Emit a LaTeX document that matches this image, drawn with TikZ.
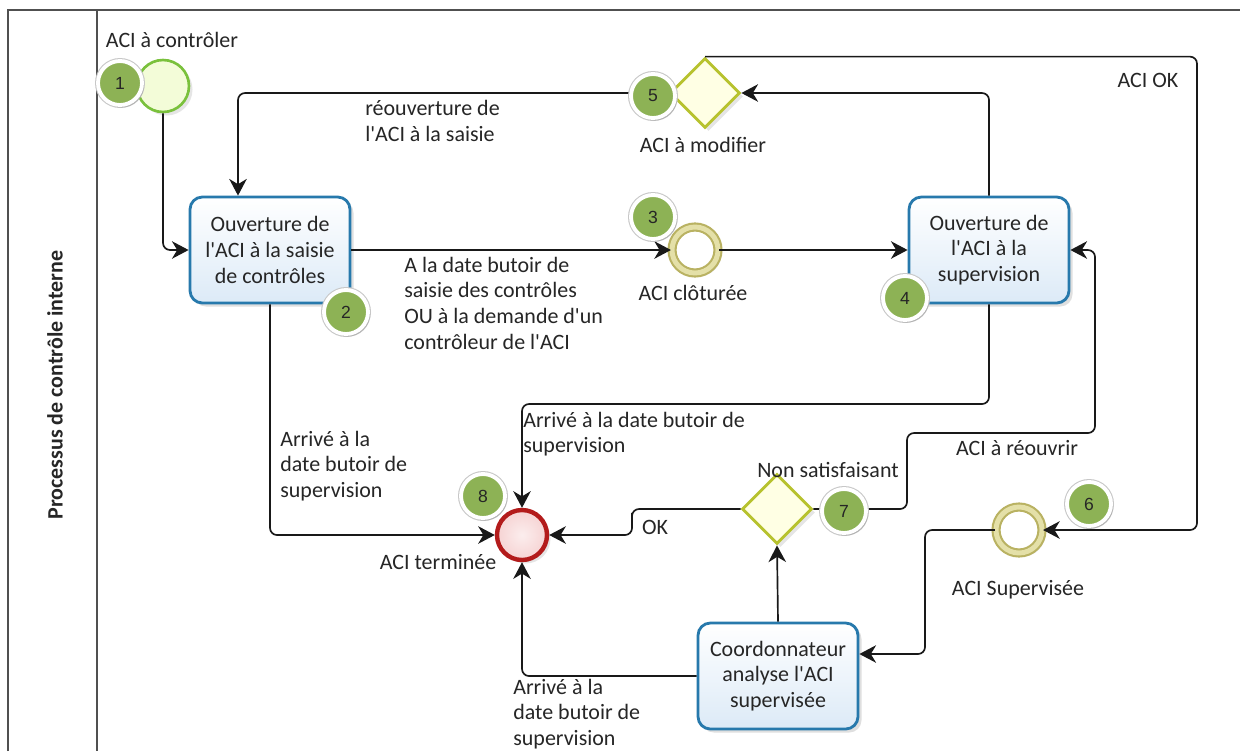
\documentclass[tikz,border=0pt]{standalone}
\usepackage{fontspec}
\setmainfont{Carlito}[Ligatures=TeXOff]
\newfontfamily\badgefont{Liberation Sans}
\usetikzlibrary{shapes.geometric,arrows.meta,calc,shadows}
\definecolor{taskblue}{HTML}{2779AC}
\definecolor{taskfill}{HTML}{DCEAF7}
\definecolor{badgegreen}{HTML}{8DB255}
\definecolor{startgreen}{HTML}{7AC13C}
\definecolor{startfill}{HTML}{F3FCD8}
\definecolor{gwline}{HTML}{B7C22E}
\definecolor{gwfill}{HTML}{FFFFE4}
\definecolor{endred}{HTML}{B31B1B}
\definecolor{endfill}{HTML}{F6D3D3}
\definecolor{khaki}{HTML}{B9B262}
\definecolor{khakilight}{HTML}{E4E0A8}
\definecolor{framegray}{HTML}{505050}
\begin{document}
\begin{tikzpicture}[x=0.02cm,y=-0.02cm,
  txt/.style={font=\fontsize{12.5}{14.6}\selectfont, text=black!85, inner sep=0pt},
  lbl/.style={txt, align=left, anchor=west},
  clbl/.style={txt, align=center},
  flow/.style={draw=black!90, line width=0.95pt, rounded corners=4pt,
    -{Stealth[length=9.5pt,width=10pt,inset=3pt]}},
  task/.style={rectangle, draw=taskblue, line width=1.6pt, rounded corners=7pt,
    top color=white, bottom color=taskfill, minimum width=3.2cm, minimum height=2.12cm,
    align=center, font=\fontsize{12.5}{14.6}\selectfont, text=black!85,
    drop shadow={opacity=0.25, shadow xshift=2pt, shadow yshift=-2pt}},
  gateway/.style={diamond, aspect=1, draw=gwline, line width=1.6pt, fill=gwfill,
    minimum width=1.4cm, minimum height=1.4cm, inner sep=0pt,
    drop shadow={opacity=0.2, shadow xshift=2pt, shadow yshift=-2pt}},
  startev/.style={circle, draw=startgreen, line width=1.5pt, fill=startfill,
    minimum size=1.04cm, inner sep=0pt,
    drop shadow={opacity=0.2, shadow xshift=2pt, shadow yshift=-2pt}},
  midev/.style={circle, draw=khaki, line width=1.2pt, double=khakilight,
    double distance=2.8pt, fill=white, minimum size=0.92cm, inner sep=0pt,
    drop shadow={opacity=0.2, shadow xshift=2pt, shadow yshift=-2pt}},
  endev/.style={circle, draw=endred, line width=2.5pt, inner color=endfill!40,
    outer color=endfill, minimum size=1.0cm, inner sep=0pt,
    drop shadow={opacity=0.2, shadow xshift=2pt, shadow yshift=-2pt}},
  badge/.style={circle, fill=badgegreen, draw=white, line width=2.2pt,
    preaction={draw=black!22, line width=3.4pt},
    minimum size=0.88cm, inner sep=0pt, text=black!85,
    font=\badgefont\fontsize{10}{11}\selectfont,
    drop shadow={opacity=0.3, shadow xshift=1.2pt, shadow yshift=-1.5pt}},
  frame/.style={draw=framegray, line width=1.2pt}
]
\useasboundingbox (0,0) rectangle (1240,751);
\fill[white] (0,0) rectangle (1240,751);

% pool frame
\draw[frame] (8,751) -- (8,10) -- (1240,10);
\draw[frame] (97,10) -- (97,751);
\node[txt, font=\bfseries\fontsize{12.5}{14.6}\selectfont, rotate=90] (lane) at (55,385) {Processus de contrôle interne};

% flow nodes
\node[startev] (start) at (163,86) {};
\node[task] (t2) at (270,250) {Ouverture de\\l'ACI à la saisie\\de contrôles};
\node[midev] (ev3) at (695,250) {};
\node[task] (t4) at (989,250) {Ouverture de\\l'ACI à la\\supervision};
\node[gateway] (gw5) at (705,93) {};
\node[endev] (end8) at (522,535) {};
\node[gateway] (gw7) at (777,509) {};
\node[task] (coord) at (778,676) {Coordonnateur\\analyse l'ACI\\supervisée};
\node[midev] (ev6) at (1019,530) {};

% helper coordinates
\coordinate (c2) at ($(t2.north)+(-32,0)$);
\coordinate (okr) at (1197,300);
\coordinate (c6) at (925,600);
\coordinate (ctgt) at ($(coord.east)+(0,-22)$);
\coordinate (okc) at (632,520);
\coordinate (r1) at (907,433);
\coordinate (r2) at (1095,433);
\coordinate (a1) at (522,404);

% connectors
\draw[flow] (start.south) |- (t2.west);
\draw[flow] (gw5.west) -| (c2);
\draw[flow] (t2.east) -- (ev3.west);
\draw[flow] (ev3.east) -- (t4.west);
\draw[flow] (t4.north) |- (gw5.east);
\draw[flow] (gw5.north) -| (okr) |- (ev6.east);
\draw[flow] (ev6.west) -| (c6) |- (ctgt);
\draw[flow] (coord.north) -- (gw7.south);
\draw[flow] (gw7.west) -| (okc) |- (end8.east);
\draw[flow] (gw7.east) -| (r1) -- (r2) |- (t4.east);
\draw[flow] (t4.south) |- (a1) -- (end8.north);
\draw[flow] (t2.south) |- (end8.west);
\draw[flow] (coord.west) -| (end8.south);

% badges
\node[badge] (b1) at (120,83) {1};
\node[badge] (b2) at (346,312) {2};
\node[badge] (b3) at (653,217) {3};
\node[badge] (b4) at (905,298) {4};
\node[badge] (b5) at (653,96) {5};
\node[badge] (b6) at (1089,504) {6};
\node[badge] (b7) at (844,511) {7};
\node[badge] (b8) at (483,496) {8};

% labels
\node[clbl] (l1) at (172,40) {ACI à contrôler};
\node[lbl] (l2) at (365,121) {réouverture de\\l'ACI à la saisie};
\node[clbl] (l5) at (703,145) {ACI à modifier};
\node[clbl] (lok) at (1148,80) {ACI OK};
\node[clbl] (l3) at (693,293) {ACI clôturée};
\node[lbl] (l23) at (404,303) {A la date butoir de\\saisie des contrôles\\OU à la demande d'un\\contrôleur de l'ACI};
\node[lbl] (l28) at (280,466) {Arrivé à la\\date butoir de\\supervision};
\node[lbl] (l48) at (523,434) {Arrivé à la date butoir de\\supervision};
\node[clbl] (l8) at (438,562) {ACI terminée};
\node[clbl] (lns) at (828,470) {Non satisfaisant};
\node[clbl] (lro) at (1017,448) {ACI à réouvrir};
\node[clbl] (lokk) at (655,527) {OK};
\node[clbl] (l6) at (1018,590) {ACI Supervisée};
\node[lbl] (lc8) at (513,714) {Arrivé à la\\date butoir de\\supervision};
\end{tikzpicture}
\end{document}
